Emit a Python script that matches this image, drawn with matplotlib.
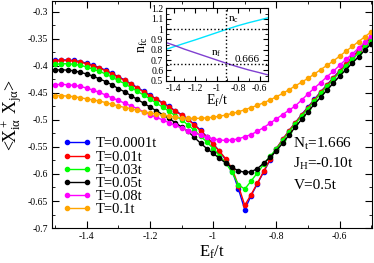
import matplotlib
matplotlib.use("Agg")
import matplotlib.pyplot as plt
from matplotlib.ticker import MultipleLocator, FuncFormatter

plt.rcParams['font.family'] = ['Liberation Serif', 'DejaVu Serif']
plt.rcParams['mathtext.fontset'] = 'custom'
plt.rcParams['mathtext.rm'] = 'Liberation Serif'
plt.rcParams['mathtext.it'] = 'Liberation Serif:italic'
plt.rcParams['mathtext.default'] = 'regular'
plt.rcParams['axes.unicode_minus'] = False

# Ef/t grid of the main panel
ef = [-1.50, -1.48, -1.46, -1.44, -1.42, -1.40, -1.38, -1.36, -1.34, -1.32,
      -1.30, -1.28, -1.26, -1.24, -1.22, -1.20, -1.18, -1.16, -1.14, -1.12,
      -1.10, -1.08, -1.06, -1.04, -1.02, -1.00, -0.98, -0.96, -0.94, -0.92,
      -0.90, -0.88, -0.86, -0.84, -0.82, -0.80, -0.78, -0.76, -0.74, -0.72,
      -0.70, -0.68, -0.66, -0.64, -0.62, -0.60, -0.58, -0.56, -0.54, -0.52,
      -0.50]

t_0001 = [-0.390, -0.389, -0.389, -0.390, -0.392, -0.395, -0.399, -0.403, -0.408, -0.414,
          -0.420, -0.426, -0.433, -0.440, -0.447, -0.454, -0.461, -0.468, -0.475, -0.483,
          -0.490, -0.498, -0.508, -0.519, -0.531, -0.544, -0.558, -0.574, -0.594, -0.628,
          -0.666, -0.640, -0.618, -0.596, -0.574, -0.553, -0.536, -0.520, -0.505, -0.490,
          -0.476, -0.462, -0.448, -0.435, -0.422, -0.409, -0.396, -0.384, -0.371, -0.359,
          -0.347]
t_01 = [-0.391, -0.390, -0.390, -0.391, -0.393, -0.396, -0.400, -0.404, -0.409, -0.415,
        -0.421, -0.427, -0.434, -0.441, -0.448, -0.455, -0.462, -0.469, -0.476, -0.484,
        -0.491, -0.499, -0.509, -0.520, -0.532, -0.545, -0.558, -0.572, -0.590, -0.622,
        -0.658, -0.638, -0.617, -0.595, -0.573, -0.553, -0.536, -0.520, -0.505, -0.491,
        -0.477, -0.463, -0.449, -0.436, -0.423, -0.410, -0.397, -0.385, -0.372, -0.360,
        -0.348]
t_03 = [-0.397, -0.396, -0.396, -0.397, -0.399, -0.402, -0.406, -0.410, -0.415, -0.421,
        -0.427, -0.433, -0.440, -0.447, -0.454, -0.461, -0.469, -0.476, -0.484, -0.492,
        -0.500, -0.509, -0.519, -0.530, -0.541, -0.553, -0.566, -0.580, -0.597, -0.620,
        -0.628, -0.613, -0.598, -0.582, -0.567, -0.554, -0.538, -0.522, -0.507, -0.493,
        -0.479, -0.465, -0.451, -0.438, -0.425, -0.412, -0.400, -0.388, -0.376, -0.364,
        -0.352]
t_05 = [-0.408, -0.407, -0.408, -0.409, -0.412, -0.415, -0.419, -0.424, -0.429, -0.435,
        -0.442, -0.448, -0.455, -0.462, -0.469, -0.476, -0.483, -0.490, -0.497, -0.505,
        -0.513, -0.521, -0.532, -0.543, -0.553, -0.562, -0.571, -0.580, -0.588, -0.594,
        -0.597, -0.596, -0.590, -0.580, -0.569, -0.557, -0.543, -0.528, -0.513, -0.499,
        -0.485, -0.471, -0.458, -0.445, -0.432, -0.419, -0.407, -0.395, -0.383, -0.371,
        -0.359]
t_08 = [-0.435, -0.434, -0.435, -0.436, -0.438, -0.441, -0.445, -0.449, -0.454, -0.459,
        -0.464, -0.469, -0.474, -0.479, -0.485, -0.490, -0.495, -0.500, -0.505, -0.510,
        -0.515, -0.520, -0.524, -0.528, -0.532, -0.535, -0.537, -0.538, -0.537, -0.535,
        -0.531, -0.527, -0.521, -0.514, -0.506, -0.498, -0.490, -0.482, -0.474, -0.463,
        -0.452, -0.441, -0.431, -0.420, -0.410, -0.399, -0.388, -0.378, -0.367, -0.356,
        -0.345]
t_1 = [-0.455, -0.455, -0.456, -0.457, -0.459, -0.461, -0.463, -0.465, -0.468, -0.471,
       -0.474, -0.477, -0.479, -0.482, -0.485, -0.487, -0.489, -0.491, -0.493, -0.495,
       -0.496, -0.497, -0.497, -0.497, -0.496, -0.495, -0.493, -0.491, -0.488, -0.485,
       -0.481, -0.477, -0.473, -0.468, -0.463, -0.457, -0.451, -0.444, -0.437, -0.430,
       -0.423, -0.415, -0.407, -0.399, -0.391, -0.382, -0.373, -0.364, -0.355, -0.346,
       -0.337]

labels = ["T=0.0001t", "T=0.01t", "T=0.03t", "T=0.05t", "T=0.08t", "T=0.1t"]
colors = ["#0000ff", "#ff0000", "#00ff00", "#000000", "#ff00ff", "#ffa500"]

# inset: occupations vs Ef/t
ef_in = [-1.46, -1.40, -1.30, -1.20, -1.10, -1.00, -0.90, -0.80, -0.70, -0.60, -0.52]
n_c = [0.808, 0.828, 0.862, 0.895, 0.930, 0.965, 1.000, 1.033, 1.062, 1.088, 1.110]
n_f = [0.866, 0.845, 0.806, 0.771, 0.736, 0.701, 0.666, 0.634, 0.604, 0.578, 0.556]


def fmt(v, pos):
    return f"{v:g}"


fig = plt.figure(figsize=(3.74, 2.63), dpi=100)
ax = fig.add_axes([0.139, 0.133, 0.856, 0.863])

series = [t_0001, t_01, t_03, t_05, t_08, t_1]
for vals, lab, col in zip(series, labels, colors):
    ax.plot(ef, vals, "-o", color=col, lw=1, ms=3, mec=col, label=lab)

ax.set_xlim(-1.51, -0.497)
ax.set_ylim(-0.7, -0.28)
ax.xaxis.set_major_locator(MultipleLocator(0.2))
ax.xaxis.set_minor_locator(MultipleLocator(0.1))
ax.yaxis.set_major_locator(MultipleLocator(0.05))
ax.yaxis.set_minor_locator(MultipleLocator(0.025))
ax.xaxis.set_major_formatter(FuncFormatter(fmt))
ax.yaxis.set_major_formatter(FuncFormatter(fmt))
ax.tick_params(which="both", direction="in", top=True, right=True, labelsize=7, pad=3)
ax.tick_params(which="major", length=5)
ax.tick_params(which="minor", length=2.5)
ax.set_xlabel("E$_f$/t", fontsize=12, labelpad=2)
ax.set_ylabel(r"<X$^+_{i\alpha}$ X$_{j\alpha}$>", fontsize=13, labelpad=2)

ax.legend(loc="upper left", bbox_to_anchor=(0.0, 0.445), frameon=False, fontsize=10.5,
          numpoints=2, handlelength=2.0, handletextpad=0.3, labelspacing=0.0,
          borderaxespad=0.3)

ax.text(-0.746, -0.552, "N$_t$=1.666", fontsize=11)
ax.text(-0.746, -0.588, "J$_H$=-0.10t", fontsize=11)
ax.text(-0.746, -0.627, "V=0.5t", fontsize=11)

ins = fig.add_axes([0.444, 0.693, 0.273, 0.275])
ins.plot(ef_in, n_c, color="#00e5ff", lw=1)
ins.plot(ef_in, n_f, color="#8040d0", lw=1)
ins.axhline(1.0, color="k", ls=":", lw=1)
ins.axhline(0.666, color="k", ls=":", lw=1)
ins.axvline(-0.91, color="k", ls=":", lw=1)
ins.set_xlim(-1.47, -0.52)
ins.set_ylim(0.5, 1.2)
ins.xaxis.set_major_locator(MultipleLocator(0.2))
ins.xaxis.set_minor_locator(MultipleLocator(0.1))
ins.yaxis.set_major_locator(MultipleLocator(0.1))
ins.yaxis.set_minor_locator(MultipleLocator(0.05))
ins.xaxis.set_major_formatter(FuncFormatter(fmt))
ins.yaxis.set_major_formatter(FuncFormatter(fmt))
ins.tick_params(which="both", direction="in", top=True, right=True, labelsize=7, pad=2)
ins.tick_params(which="major", length=3.5)
ins.tick_params(which="minor", length=2)
ins.set_xlabel("E$_f$/t", fontsize=10, labelpad=0)
ins.set_ylabel("n$_{fc}$", fontsize=10, labelpad=1)
ins.text(-0.89, 1.07, "n$_c$", fontsize=8)
ins.text(-1.05, 0.74, "n$_f$", fontsize=8)
ins.text(-0.83, 0.68, "0.666", fontsize=8)

fig.savefig("out.png", dpi=100)
